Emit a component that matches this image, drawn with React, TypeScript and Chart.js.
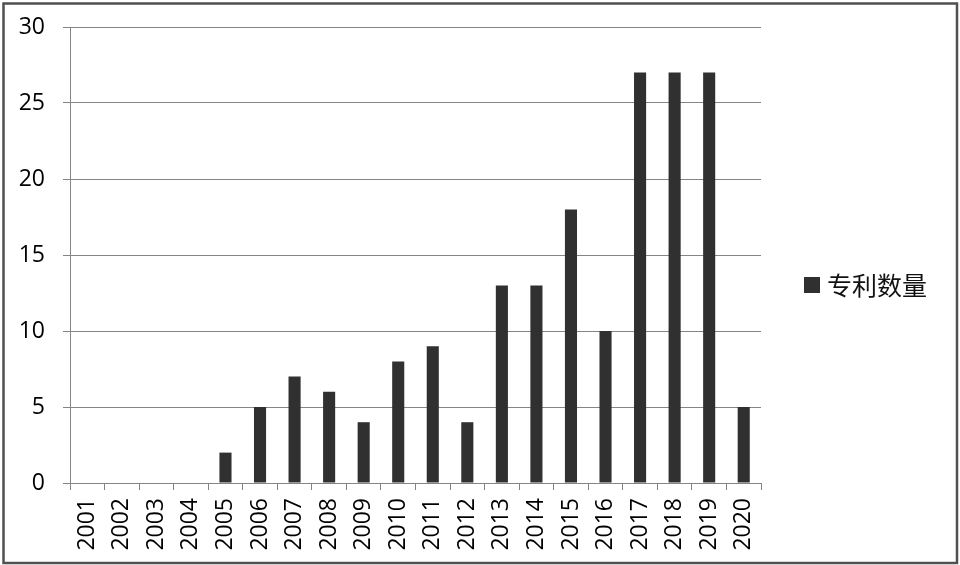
import React, { useEffect, useRef } from "react";
import { Chart, registerables } from "chart.js";

Chart.register(...registerables);

const categories: string[] = [
  "2001", "2002", "2003", "2004", "2005", "2006", "2007", "2008", "2009", "2010",
  "2011", "2012", "2013", "2014", "2015", "2016", "2017", "2018", "2019", "2020",
];
const patentCounts: number[] = [0, 0, 0, 0, 2, 5, 7, 6, 4, 8, 9, 4, 13, 13, 18, 10, 27, 27, 27, 5];
const seriesLabel = "专利数量";
const yTicks: number[] = [0, 5, 10, 15, 20, 25, 30];

const BAR_COLOR = "#303030";
const GRID_COLOR = "#858585";

const frameAndLegend = {
  id: "frameAndLegend",
  beforeDraw(chart: any) {
    const ctx = chart.ctx;
    ctx.save();
    ctx.fillStyle = "#ffffff";
    ctx.fillRect(0, 0, chart.width, chart.height);
    ctx.restore();
  },
  afterDraw(chart: any) {
    const ctx = chart.ctx;
    ctx.save();
    ctx.strokeStyle = "#505050";
    ctx.lineWidth = 2.5;
    ctx.strokeRect(3.5, 3.5, chart.width - 6.5, chart.height - 5.5);
    const ds = chart.data.datasets[0];
    const bx = chart.chartArea.right + 43;
    const cy = 285;
    ctx.fillStyle = ds.backgroundColor;
    ctx.fillRect(bx, cy - 8, 16, 16);
    ctx.fillStyle = "#111111";
    ctx.font = '25px "Noto Sans CJK SC"';
    ctx.textBaseline = "middle";
    ctx.textAlign = "left";
    ctx.fillText(ds.label, bx + 23, cy);
    ctx.restore();
  },
};

export default function App() {
  const canvasRef = useRef<HTMLCanvasElement | null>(null);

  useEffect(() => {
    if (!canvasRef.current) return;
    const chart = new Chart(canvasRef.current, {
      type: "bar",
      data: {
        labels: categories,
        datasets: [
          {
            label: seriesLabel,
            data: patentCounts,
            backgroundColor: BAR_COLOR,
            borderWidth: 0,
            barPercentage: 0.35,
            categoryPercentage: 1,
          },
        ],
      },
      plugins: [frameAndLegend],
      options: {
        animation: false,
        responsive: false,
        maintainAspectRatio: false,
        layout: { padding: { top: 27, left: 0, right: 199, bottom: 0 } },
        plugins: {
          legend: { display: false },
          tooltip: { enabled: false },
        },
        scales: {
          x: {
            type: "category",
            offset: true,
            grid: {
              offset: true,
              drawOnChartArea: false,
              drawTicks: true,
              tickLength: 7,
              color: GRID_COLOR,
              lineWidth: 1,
            },
            border: { display: true, color: GRID_COLOR, width: 1 },
            ticks: {
              autoSkip: false,
              maxRotation: 90,
              minRotation: 90,
              padding: 8,
              color: "#000000",
              font: { family: '"Open Sans", "Liberation Sans", sans-serif', size: 23 },
            },
            afterFit: (axis: any) => {
              axis.height = 82;
              axis.paddingLeft = 0;
              axis.paddingRight = 0;
            },
          },
          y: {
            min: 0,
            max: 30,
            afterBuildTicks: (axis: any) => {
              axis.ticks = yTicks.map((v) => ({ value: v }));
            },
            grid: {
              drawTicks: true,
              tickLength: 7,
              color: GRID_COLOR,
              lineWidth: 1,
            },
            border: { display: true, color: GRID_COLOR, width: 1 },
            ticks: {
              padding: 18,
              color: "#000000",
              font: { family: '"Open Sans", "Liberation Sans", sans-serif', size: 23 },
            },
            afterFit: (axis: any) => {
              axis.width = 70;
              axis.paddingTop = 0;
              axis.paddingBottom = 0;
            },
          },
        },
      },
    });
    return () => chart.destroy();
  }, []);

  return (
    <div style={{ position: "absolute", left: 0, top: 0, width: 960, height: 565 }}>
      <canvas ref={canvasRef} width={960} height={565} />
    </div>
  );
}
